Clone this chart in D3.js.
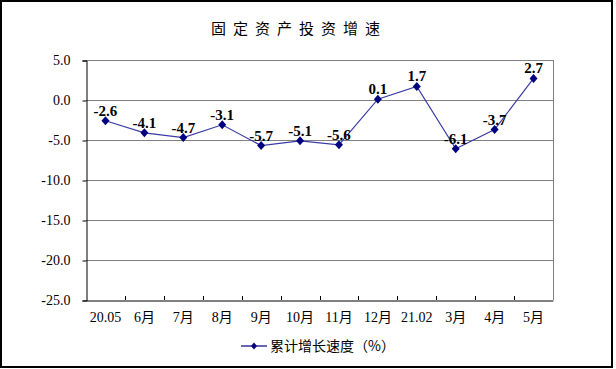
<!DOCTYPE html>
<html><head><meta charset="utf-8">
<script src="https://cdn.jsdelivr.net/npm/d3@7"></script>
<style>body{margin:0;background:#fff}svg{display:block}</style>
</head><body>
<script>
const categories = ["20.05","6月","7月","8月","9月","10月","11月","12月","21.02","3月","4月","5月"];
const values = [-2.6,-4.1,-4.7,-3.1,-5.7,-5.1,-5.6,0.1,1.7,-6.1,-3.7,2.7];
const yTicks = [5,0,-5,-10,-15,-20,-25];
const title = "固定资产投资增速";
const seriesName = "累计增长速度（%）";

const W = 616, H = 369;
const svg = d3.select("body").append("svg").attr("width", W).attr("height", H);
svg.append("rect").attr("x",1).attr("y",1).attr("width",611).attr("height",366)
  .attr("fill","#fff").attr("stroke","#000").attr("stroke-width",2);

const L = 86, R = 553, T = 60, B = 300;
const x = d3.scaleBand().domain(categories).range([L, R]).padding(0);
const y = d3.scaleLinear().domain([-25, 5]).range([B, T]);
const serif = "'Liberation Serif','Times New Roman',serif";
const cjk = "'Liberation Serif','Noto Sans CJK SC',serif";

// title
svg.append("text").attr("x", 299).attr("y", 34).attr("text-anchor","middle")
  .attr("font-family","'Noto Sans CJK SC',sans-serif").attr("font-size",15)
  .attr("letter-spacing","7px").attr("fill","#000").text(title);

// gridlines
svg.append("g").selectAll("line").data(yTicks.filter(d=>d>-25)).join("line")
  .attr("x1", L).attr("x2", R).attr("y1", d=>y(d)+0.5).attr("y2", d=>y(d)+0.5)
  .attr("stroke","#808080").attr("stroke-width",1);
svg.append("line").attr("x1",R+0.5).attr("x2",R+0.5).attr("y1",T).attr("y2",B)
  .attr("stroke","#808080");

// y axis
const yAxis = svg.append("g").attr("transform",`translate(${L+0.5},0.5)`)
  .call(d3.axisLeft(y).tickValues(yTicks).tickFormat(d3.format(".1f")).tickSize(4).tickPadding(12));
yAxis.select(".domain").attr("stroke","#000");
yAxis.selectAll(".tick line").attr("stroke","#000");
yAxis.selectAll("text").attr("font-family",serif).attr("font-size",14).attr("fill","#000")
  .text(d=>d3.format(".1f")(d).replace("−","-"));

// x axis
const xAxis = svg.append("g").attr("transform",`translate(0,${B+0.5})`)
  .call(d3.axisBottom(x).tickSizeOuter(0).tickSize(0).tickPadding(12));
xAxis.select(".domain").attr("stroke","#000");
xAxis.selectAll("text").attr("font-family",cjk).attr("font-size",14).attr("fill","#000");
svg.append("g").selectAll("line").data(categories.slice(1)).join("line")
  .attr("x1", d=>Math.round(x(d))+0.5).attr("x2", d=>Math.round(x(d))+0.5)
  .attr("y1", B-4).attr("y2", B).attr("stroke","#000");

// series
const cx = d => x(d) + x.bandwidth()/2;
const line = d3.line().x((d,i)=>cx(categories[i])).y(d=>y(d));
svg.append("path").datum(values).attr("d", line).attr("fill","none")
  .attr("stroke","#3a3aa8").attr("stroke-width",1.2);
const diamond = "M0,-4.5L4,0L0,4.5L-4,0Z";
svg.append("g").selectAll("path").data(values).join("path")
  .attr("d", diamond)
  .attr("transform",(d,i)=>`translate(${cx(categories[i])},${y(d)})`)
  .attr("fill","#000080");
svg.append("g").selectAll("text").data(values).join("text")
  .attr("x",(d,i)=>cx(categories[i])).attr("y", d=>y(d)-5)
  .attr("text-anchor","middle").attr("font-family",serif).attr("font-weight","bold")
  .attr("font-size",15).attr("fill","#000").text(d=>d3.format(".1f")(d).replace("−","-"));

// legend
const lg = svg.append("g").attr("transform","translate(241,346)");
lg.append("line").attr("x1",0).attr("x2",26).attr("y1",0).attr("y2",0).attr("stroke","#000080").attr("stroke-width",1.2);
lg.append("path").attr("d", "M0,-3.5L3,0L0,3.5L-3,0Z").attr("transform","translate(13,0)").attr("fill","#000080");
lg.append("text").attr("x",29).attr("y",5).attr("font-family","'Noto Sans CJK SC',sans-serif")
  .attr("font-size",14).attr("fill","#000").text(seriesName);
</script>
</body></html>
